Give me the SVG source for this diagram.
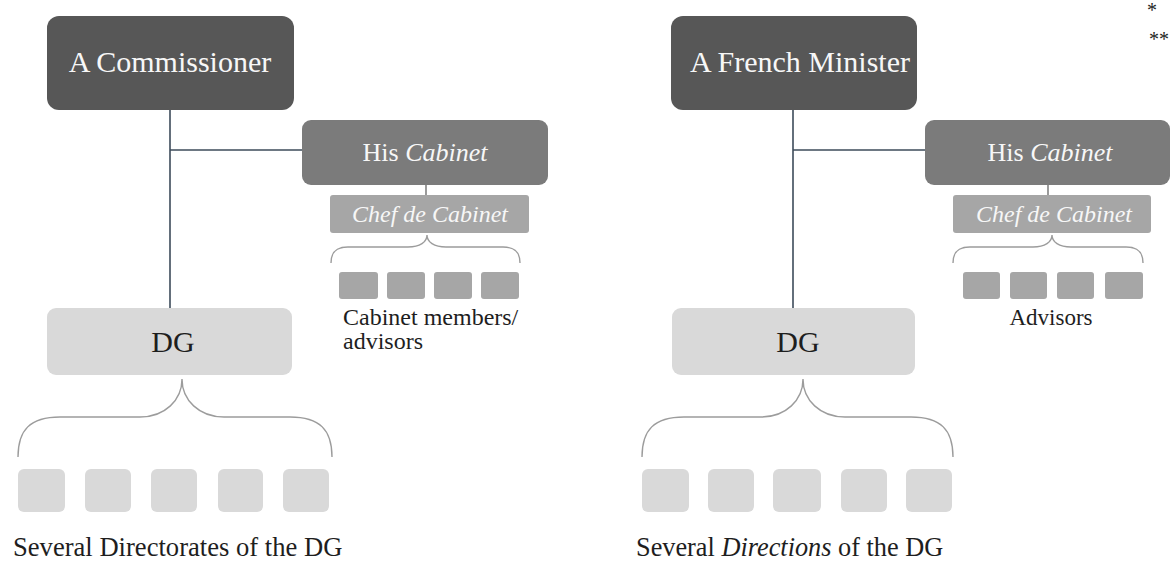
<svg xmlns="http://www.w3.org/2000/svg" width="1176" height="563" viewBox="0 0 1176 563">
<style>
text{font-family:"Liberation Serif","Times New Roman",serif}
.top{fill:#575757}
.cab{fill:#7b7b7b}
.chef{fill:#a6a6a6}
.dg{fill:#d9d9d9}
.wt{fill:#f7f7f7}
.dk{fill:#1e1e1e}
.conn{stroke:#3d4b5a;stroke-width:1.6;fill:none}
.tick{stroke:#707070;stroke-width:1.4;fill:none}
.brace{stroke:#9c9c9c;stroke-width:1.4;fill:none}
.it{font-style:italic}
</style>
<rect width="1176" height="563" fill="#ffffff"/>

<g id="connectors">
  <line class="conn" x1="170" y1="110" x2="170" y2="308"/>
  <line class="conn" x1="170" y1="150" x2="302" y2="150"/>
  <line class="conn" x1="793" y1="110" x2="793" y2="308"/>
  <line class="conn" x1="793" y1="150" x2="925" y2="150"/>
  <line class="tick" x1="426" y1="185" x2="426" y2="195"/>
  <line class="tick" x1="1048" y1="185" x2="1048" y2="195"/>
  <path class="brace" d="M331,263 C331,252 336,247 348,247 L408,247 C420,247 427,242 427,235 C427,242 434,247 446,247 L503,247 C515,247 520,252 520,263"/>
  <path class="brace" d="M953,263 C953,252 958,247 970,247 L1033,247 C1045,247 1052,242 1052,235 C1052,242 1059,247 1071,247 L1126,247 C1138,247 1143,252 1143,263"/>
  <path class="brace" d="M18,457 C18,430 30,417 60,417 L140,417 C165,417 182,400 182,379 C182,400 199,417 224,417 L290,417 C320,417 332,430 332,457"/>
  <path class="brace" d="M642,457 C642,430 654,417 684,417 L761,417 C786,417 803,400 803,379 C803,400 820,417 845,417 L911,417 C941,417 953,430 953,457"/>
</g>

<g id="commissioner">
  <rect class="top" x="47" y="16" width="247" height="94" rx="12"/>
  <text class="wt" x="170" y="72" font-size="30" text-anchor="middle">A Commissioner</text>
</g>
<g id="cabinet-left">
  <rect class="cab" x="302" y="120" width="246" height="65" rx="9"/>
  <text class="wt" x="425" y="161" font-size="26" text-anchor="middle">His <tspan class="it">Cabinet</tspan></text>
</g>
<g id="chef-left">
  <rect class="chef" x="330" y="195" width="199" height="38" rx="3"/>
  <text class="wt it" x="430" y="222" font-size="24" text-anchor="middle">Chef de Cabinet</text>
</g>
<g id="members-left">
  <rect class="chef" x="339" y="272" width="39" height="27" rx="3"/>
  <rect class="chef" x="387" y="272" width="38" height="27" rx="3"/>
  <rect class="chef" x="434" y="272" width="38" height="27" rx="3"/>
  <rect class="chef" x="481" y="272" width="38" height="27" rx="3"/>
  <text class="dk" x="343" y="325" font-size="24">Cabinet members/</text>
  <text class="dk" x="343" y="349" font-size="24">advisors</text>
</g>
<g id="dg-left">
  <rect class="dg" x="47" y="308" width="245" height="67" rx="9"/>
  <text class="dk" x="173" y="352" font-size="30" text-anchor="middle">DG</text>
</g>
<g id="directorates-left">
  <rect class="dg" x="18" y="469" width="47" height="43" rx="6"/>
  <rect class="dg" x="85" y="469" width="46" height="43" rx="6"/>
  <rect class="dg" x="151" y="469" width="46" height="43" rx="6"/>
  <rect class="dg" x="218" y="469" width="45" height="43" rx="6"/>
  <rect class="dg" x="283" y="469" width="46" height="43" rx="6"/>
  <text class="dk" x="13" y="556" font-size="26.6">Several Directorates of the DG</text>
</g>

<g id="minister">
  <rect class="top" x="671" y="16" width="246" height="94" rx="12"/>
  <text class="wt" x="800" y="72" font-size="30" text-anchor="middle">A French Minister</text>
</g>
<g id="cabinet-right">
  <rect class="cab" x="925" y="120" width="245" height="65" rx="9"/>
  <text class="wt" x="1050" y="161" font-size="26" text-anchor="middle">His <tspan class="it">Cabinet</tspan></text>
</g>
<g id="chef-right">
  <rect class="chef" x="953" y="195" width="198" height="38" rx="3"/>
  <text class="wt it" x="1054" y="222" font-size="24" text-anchor="middle">Chef de Cabinet</text>
</g>
<g id="advisors-right">
  <rect class="chef" x="963" y="272" width="37" height="27" rx="3"/>
  <rect class="chef" x="1010" y="272" width="37" height="27" rx="3"/>
  <rect class="chef" x="1057" y="272" width="37" height="27" rx="3"/>
  <rect class="chef" x="1105" y="272" width="38" height="27" rx="3"/>
  <text class="dk" x="1051" y="325" font-size="23" text-anchor="middle">Advisors</text>
</g>
<g id="dg-right">
  <rect class="dg" x="672" y="308" width="243" height="67" rx="9"/>
  <text class="dk" x="798" y="352" font-size="30" text-anchor="middle">DG</text>
</g>
<g id="directions-right">
  <rect class="dg" x="642" y="469" width="47" height="43" rx="6"/>
  <rect class="dg" x="708" y="469" width="46" height="43" rx="6"/>
  <rect class="dg" x="773" y="469" width="48" height="43" rx="6"/>
  <rect class="dg" x="841" y="469" width="46" height="43" rx="6"/>
  <rect class="dg" x="906" y="469" width="46" height="43" rx="6"/>
  <text class="dk" x="636" y="556" font-size="26.3">Several <tspan class="it">Directions</tspan> of the DG</text>
</g>

<g id="notes">
  <text class="dk" x="1152" y="17" font-size="20" text-anchor="middle">*</text>
  <text class="dk" x="1159" y="46" font-size="20" text-anchor="middle">**</text>
</g>
</svg>
